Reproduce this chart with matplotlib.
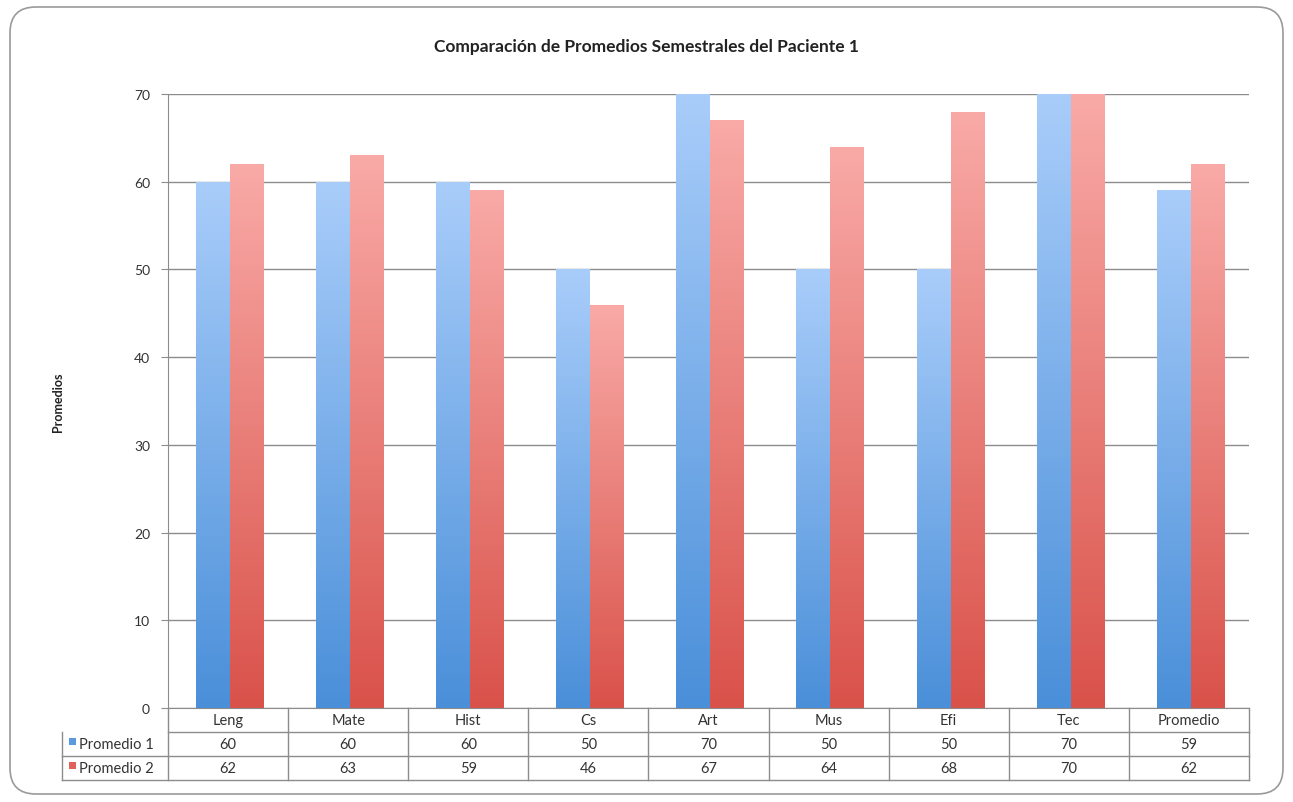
import matplotlib
matplotlib.use("Agg")
import matplotlib.pyplot as plt
import numpy as np
from matplotlib.colors import LinearSegmentedColormap
from matplotlib.patches import FancyBboxPatch, Rectangle

plt.rcParams['font.family'] = ['Lato', 'DejaVu Sans']

materias = ["Leng", "Mate", "Hist", "Cs", "Art", "Mus", "Efi", "Tec", "Promedio"]
promedio1 = [60, 60, 60, 50, 70, 50, 50, 70, 59]
promedio2 = [62, 63, 59, 46, 67, 64, 68, 70, 62]
series = ["Promedio 1", "Promedio 2"]

cmap_azul = LinearSegmentedColormap.from_list("azul", ["#4a8fd9", "#a9cdfa"])
cmap_rojo = LinearSegmentedColormap.from_list("rojo", ["#d9524a", "#f9aaa7"])

W, H = 1293, 803
fig = plt.figure(figsize=(W / 100, H / 100), dpi=100)
fig.patch.set_facecolor("white")

# rounded frame around the whole chart
marco = FancyBboxPatch((10 / W, 8 / H), 1273 / W, 787 / H,
                       boxstyle="round,pad=0,rounding_size=0.02",
                       transform=fig.transFigure, facecolor="none",
                       edgecolor="#9a9a9a", linewidth=1.2, mutation_aspect=W / H)
fig.patches.append(marco)

x0, x1, ytop, ybot = 168, 1249, 95, 709
ax = fig.add_axes([x0 / W, 1 - ybot / H, (x1 - x0) / W, (ybot - ytop) / H])
ax.set_facecolor("none")

n = len(materias)
x = np.arange(n)
ancho = 0.283
grad = np.linspace(0, 1, 256).reshape(-1, 1)


def barra_degradado(xc, valor, cmap):
    rect = Rectangle((xc - ancho / 2, 0), ancho, valor, facecolor="none",
                     edgecolor="none")
    ax.add_patch(rect)
    im = ax.imshow(grad, cmap=cmap, origin="lower", aspect="auto",
                   extent=(xc - ancho / 2, xc + ancho / 2, 0, valor), zorder=2)
    im.set_clip_path(rect)


desplaz = 0.015
for i in range(n):
    barra_degradado(x[i] - ancho / 2 + desplaz, promedio1[i], cmap_azul)
    barra_degradado(x[i] + ancho / 2 + desplaz, promedio2[i], cmap_rojo)

ax.set_xlim(-0.5, n - 0.5)
ax.set_ylim(0, 70)
ax.set_yticks(range(0, 71, 10))
ax.yaxis.grid(True, color="#8c8c8c", linewidth=1.0)
ax.set_axisbelow(True)
ax.tick_params(axis="y", length=5, color="#8c8c8c", labelsize=10,
               labelcolor="#333333", pad=8)
ax.set_xticks([])
for s in ["top", "right"]:
    ax.spines[s].set_visible(False)
for s in ["left", "bottom"]:
    ax.spines[s].set_color("#8c8c8c")

ax.set_ylabel("Promedios", fontsize=9, fontweight="bold", labelpad=50,
              color="#222222")
fig.text(0.5, 1 - 47 / H, "Comparación de Promedios Semestrales del Paciente 1",
         ha="center", va="center", fontsize=12.5, fontweight="bold",
         color="#222222")

# data table below the axis
alto = 24 / (ybot - ytop)
izq = (62 - x0) / (x1 - x0)
lc = "#8c8c8c"
tr = ax.transAxes
for k in range(1, 4):
    xs = [izq, 1] if k > 1 else [0, 1]
    ax.plot(xs, [-k * alto] * 2, color=lc, lw=1, transform=tr, clip_on=False)
ax.plot([izq, izq], [-alto, -3 * alto], color=lc, lw=1, transform=tr, clip_on=False)
for j in range(n + 1):
    ax.plot([j / n, j / n], [0, -3 * alto], color=lc, lw=1, transform=tr,
            clip_on=False)

for j, nombre in enumerate(materias):
    xc = (j + 0.5) / n
    ax.text(xc, -0.5 * alto, nombre, transform=tr, ha="center", va="center",
            fontsize=10.5, color="#333333")
    ax.text(xc, -1.5 * alto, str(promedio1[j]), transform=tr, ha="center",
            va="center", fontsize=10.5, color="#333333")
    ax.text(xc, -2.5 * alto, str(promedio2[j]), transform=tr, ha="center",
            va="center", fontsize=10.5, color="#333333")

for k, (nombre, color) in enumerate(zip(series, ["#5c9ae0", "#e0625a"])):
    yc = -(k + 1.5) * alto
    mx = (69 - x0) / (x1 - x0)
    ax.add_patch(Rectangle((mx, yc - 0.002), 7 / (x1 - x0), 7 / (ybot - ytop),
                           transform=tr, facecolor=color, edgecolor="none",
                           clip_on=False))
    ax.text((79 - x0) / (x1 - x0), yc, nombre, transform=tr, ha="left",
            va="center", fontsize=10.5, color="#333333")

fig.savefig("out.png", dpi=100)
